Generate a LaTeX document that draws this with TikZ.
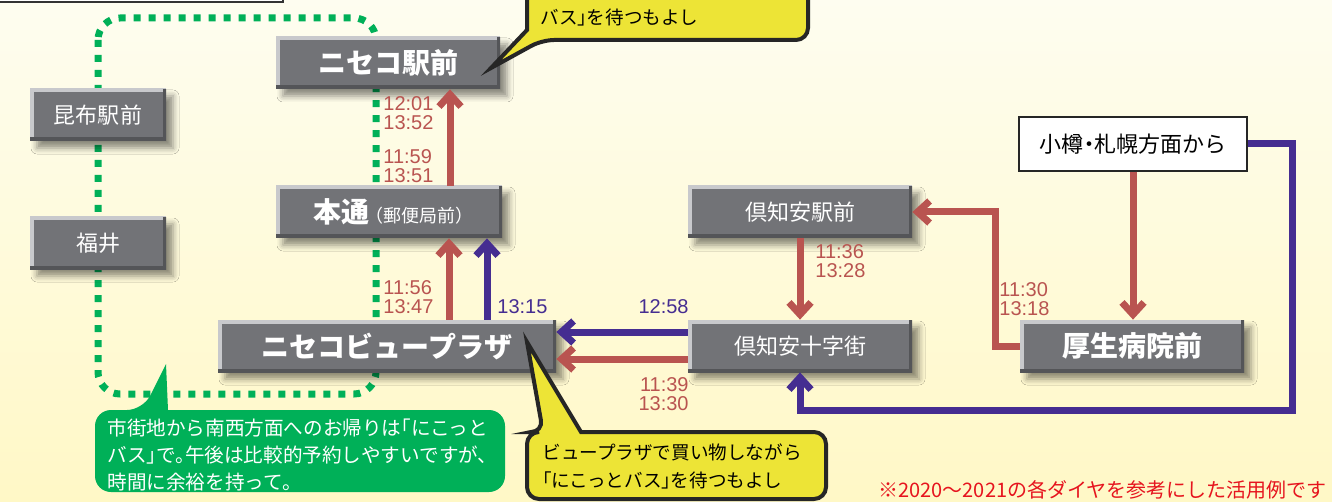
\documentclass[tikz,border=0pt]{standalone}
\usepackage{fontspec}
\setmainfont{Noto Sans CJK JP}[RawFeature=+halt]
\newfontfamily\timefont{Liberation Sans}
\usetikzlibrary{arrows.meta,shadows.blur}
\definecolor{bgtop}{RGB}{254,253,240}
\definecolor{bgbottom}{RGB}{255,248,198}
\definecolor{boxgray}{RGB}{114,115,119}
\definecolor{bevellight}{RGB}{200,201,204}
\definecolor{beveldark}{RGB}{84,85,88}
\definecolor{routered}{RGB}{185,84,80}
\definecolor{routeblue}{RGB}{69,45,145}
\definecolor{loopgreen}{RGB}{0,176,88}
\definecolor{calloutyellow}{RGB}{237,228,54}
\definecolor{notered}{RGB}{230,20,30}

\begin{document}
\begin{tikzpicture}[x=0.5pt,y=-0.5pt,
  stopbox/.style={fill=boxgray, text=white, inner sep=0pt, minimum height=26pt,
    font=\fontsize{11}{13}\selectfont,
    blur shadow={shadow xshift=3.5pt, shadow yshift=-3.5pt, shadow blur radius=3pt, shadow opacity=45},
    path picture={
      \draw[bevellight, line width=3.5pt] (path picture bounding box.south west)
        -- (path picture bounding box.north west) -- (path picture bounding box.north east);
      \draw[beveldark, line width=3.5pt] (path picture bounding box.north east)
        -- (path picture bounding box.south east) -- (path picture bounding box.south west);}},
  bigstop/.style={stopbox, font=\bfseries\fontsize{14}{16}\selectfont},
  redline/.style={draw=routered, line width=3.5pt, -{Straight Barb[length=6pt,width=11pt]}},
  blueline/.style={redline, draw=routeblue},
  dotloop/.style={draw=loopgreen, line width=3.5pt, dash pattern=on 3.5pt off 4pt, rounded corners=11pt},
  timelabel/.style={font=\timefont\fontsize{10}{9.5}\selectfont, align=left, inner sep=0pt, text=routered},
  callout/.style={fill=calloutyellow, draw=black!85, line width=2pt},
  notetext/.style={font=\fontsize{9.3}{14}\selectfont, align=left, inner sep=0pt}]

  \useasboundingbox (0,0) rectangle (1332,502);
  \shade[top color=bgtop, bottom color=bgbottom] (0,0) rectangle (1332,502);
  \draw[draw=black!80, line width=1pt, fill=white] (-10,-40) rectangle (283,2);

  \draw[dotloop] (98,18) rectangle (376,394);

  \node[bigstop, minimum width=112pt] (niseko) at (388,63) {ニセコ駅前};
  \node[stopbox, minimum width=68pt] (konbu) at (98,115) {昆布駅前};
  \node[stopbox, minimum width=68pt] (fukui) at (98,243) {福井};
  \node[stopbox, minimum width=113pt] (hondori) at (389,212)
    {{\bfseries\fontsize{14}{16}\selectfont 本通}\hspace{2.5pt}{\fontsize{9}{11}\selectfont（郵便局前）}};
  \node[bigstop, minimum width=169pt] (plaza) at (387,346) {ニセコビュープラザ};
  \node[stopbox, minimum width=112pt] (kutchanst) at (800,212) {倶知安駅前};
  \node[stopbox, minimum width=112pt] (jujigai) at (800,346) {倶知安十字街};
  \node[bigstop, minimum width=112pt] (kosei) at (1132,346) {厚生病院前};
  \node[draw=black!85, line width=1pt, fill=white, minimum width=114pt, minimum height=27pt,
    font=\fontsize{11}{13}\selectfont] (otaru) at (1133,144) {小樽・札幌方面から};

  \draw[redline] ([xshift=30.5pt]hondori.north) -- ([xshift=30.5pt]hondori.north |- niseko.south);
  \draw[redline] ([xshift=31pt]plaza.north) -- ([xshift=31pt]plaza.north |- hondori.south);
  \draw[blueline] ([xshift=50pt]plaza.north) -- ([xshift=50pt]plaza.north |- hondori.south);
  \draw[blueline] ([yshift=7pt]jujigai.west) -- ([yshift=7pt]jujigai.west -| plaza.east);
  \draw[redline] ([yshift=-6.5pt]jujigai.west) -- ([yshift=-6.5pt]jujigai.west -| plaza.east);
  \draw[redline] (kutchanst.south) -- (jujigai.north);
  \draw[redline] (kosei.west) -- ++(-24,0) |- (kutchanst.east);
  \draw[redline] (otaru.south) -- (otaru.south |- kosei.north);
  \coordinate (bluecorner) at (1292,410);
  \draw[blueline] (otaru.east) -| (bluecorner) -| (jujigai.south);

  \node[timelabel, anchor=west] (t1) at (383,113) {12:01\\13:52};
  \node[timelabel, anchor=west] (t2) at (383,166) {11:59\\13:51};
  \node[timelabel, anchor=west] (t3) at (383,297) {11:56\\13:47};
  \node[timelabel, anchor=west, text=routeblue] (t4) at (497,307) {13:15};
  \node[timelabel, anchor=east, text=routeblue] (t5) at (689,307) {12:58};
  \node[timelabel, anchor=east, align=right] (t6) at (689,394) {11:39\\13:30};
  \node[timelabel, anchor=west] (t7) at (815,261) {11:36\\13:28};
  \node[timelabel, anchor=west] (t8) at (999,299) {11:30\\13:18};

  \draw[callout] (808,-40) [rounded corners=6pt] -- (808,40) -- (542,40)
    [sharp corners] -- (491,68) -- (527,30) [rounded corners=6pt] -- (527,-40);
  \node[notetext, anchor=west] (topnote) at (540,18) {バス」を待つもよし};

  \draw[callout] (543,432) [sharp corners] -- (527,342) -- (581,432)
    [rounded corners=6pt] -- (826,432) -- (826,499) -- (527,499) -- (527,432) -- cycle;
  \node[notetext, anchor=west] (plazanote) at (542,466)
    {ビュープラザで買い物しながら\\「にこっとバス」を待つもよし};

  \fill[loopgreen] (143,410) -- (166,364) -- (168,410)
    [rounded corners=8pt] -- (505,410) -- (505,492) -- (95,492) -- (95,410) -- cycle;
  \node[notetext, anchor=west, text=white, font=\fontsize{9.8}{13.5}\selectfont] (returnnote) at (107,455)
    {市街地から南西方面へのお帰りは「にこっと\\バス」で。午後は比較的予約しやすいですが、\\時間に余裕を持って。};

  \node[anchor=west, inner sep=0pt, text=notered, font=\fontsize{10}{12}\selectfont] (footnote) at (878,490)
    {※2020～2021の各ダイヤを参考にした活用例です};
\end{tikzpicture}
\end{document}
